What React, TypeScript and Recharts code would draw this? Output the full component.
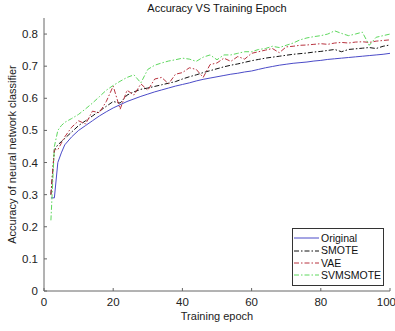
import React from 'react';
import { LineChart, Line, XAxis, YAxis } from 'recharts';

const epochs = [2, 3, 4, 5, 6, 8, 10, 12, 14, 16, 18, 20, 22, 24, 26, 28, 30, 32, 34, 36, 38, 40, 42, 44, 46, 48, 50, 52, 54, 56, 58, 60, 62, 64, 66, 68, 70, 72, 74, 76, 78, 80, 82, 84, 86, 88, 90, 92, 94, 96, 98, 100];

const original = [0.29, 0.29, 0.40, 0.43, 0.455, 0.48, 0.50, 0.515, 0.53, 0.545, 0.558, 0.57, 0.58, 0.59, 0.598, 0.606, 0.613, 0.62, 0.626, 0.632, 0.638, 0.643, 0.648, 0.654, 0.659, 0.663, 0.667, 0.671, 0.675, 0.678, 0.682, 0.685, 0.69, 0.695, 0.699, 0.703, 0.706, 0.709, 0.711, 0.713, 0.716, 0.718, 0.721, 0.723, 0.725, 0.727, 0.729, 0.731, 0.733, 0.735, 0.737, 0.74];

const smote = [0.30, 0.44, 0.455, 0.465, 0.475, 0.495, 0.515, 0.53, 0.545, 0.56, 0.575, 0.59, 0.585, 0.61, 0.62, 0.628, 0.632, 0.637, 0.642, 0.647, 0.652, 0.66, 0.667, 0.673, 0.68, 0.686, 0.692, 0.698, 0.703, 0.707, 0.712, 0.717, 0.721, 0.725, 0.728, 0.731, 0.734, 0.737, 0.739, 0.741, 0.744, 0.746, 0.749, 0.752, 0.745, 0.752, 0.754, 0.756, 0.758, 0.755, 0.762, 0.766];

const vae = [0.30, 0.44, 0.44, 0.46, 0.48, 0.51, 0.53, 0.52, 0.56, 0.555, 0.59, 0.638, 0.566, 0.625, 0.61, 0.645, 0.625, 0.66, 0.665, 0.645, 0.675, 0.68, 0.695, 0.69, 0.665, 0.705, 0.71, 0.725, 0.715, 0.73, 0.722, 0.74, 0.745, 0.75, 0.755, 0.742, 0.76, 0.762, 0.765, 0.766, 0.768, 0.77, 0.768, 0.772, 0.774, 0.772, 0.775, 0.776, 0.774, 0.778, 0.78, 0.782];

const svmsmote = [0.22, 0.45, 0.50, 0.515, 0.525, 0.537, 0.55, 0.567, 0.585, 0.605, 0.625, 0.64, 0.653, 0.665, 0.673, 0.648, 0.69, 0.703, 0.71, 0.716, 0.72, 0.725, 0.722, 0.715, 0.728, 0.735, 0.72, 0.735, 0.735, 0.74, 0.745, 0.745, 0.752, 0.755, 0.762, 0.758, 0.765, 0.772, 0.782, 0.788, 0.792, 0.795, 0.80, 0.81, 0.802, 0.795, 0.80, 0.806, 0.765, 0.79, 0.795, 0.80];

const xTicks = [0, 20, 40, 60, 80, 100];
const yTicks = [0, 0.1, 0.2, 0.3, 0.4, 0.5, 0.6, 0.7, 0.8];

const data = epochs.map((e, i) => ({
  epoch: e,
  original: original[i],
  smote: smote[i],
  vae: vae[i],
  svmsmote: svmsmote[i],
}));

const FONT = 'Arial, "Liberation Sans", sans-serif';
const AXIS = '#666';
const DASHDOT = '5 2 1.5 2';

const series = [
  { key: 'original', name: 'Original', color: '#4b4bc8', dash: undefined },
  { key: 'smote', name: 'SMOTE', color: '#111111', dash: DASHDOT },
  { key: 'vae', name: 'VAE', color: '#b8333f', dash: DASHDOT },
  { key: 'svmsmote', name: 'SVMSMOTE', color: '#5ed85e', dash: DASHDOT },
];

export default function App() {
  return (
    <div style={{ position: 'absolute', left: 0, top: 0, width: 395, height: 331, background: '#fff' }}>
      <div style={{ position: 'absolute', top: 2, left: 44, width: 346, textAlign: 'center', fontFamily: FONT, fontSize: 11, color: '#111' }}>
        Accuracy VS Training Epoch
      </div>
      <LineChart width={395} height={331} data={data} margin={{ top: 18, right: 5, left: 0, bottom: 0 }}>
        <XAxis
          xAxisId="b"
          dataKey="epoch"
          type="number"
          domain={[0, 100]}
          ticks={xTicks}
          height={40}
          stroke={AXIS}
          tickSize={-3}
          tickMargin={10}
          tick={{ fill: '#222', fontSize: 11.5, fontFamily: FONT }}
          label={{ value: 'Training epoch', position: 'insideBottom', offset: 11, fill: '#222', fontSize: 11, fontFamily: FONT }}
        />
        <XAxis
          xAxisId="t"
          dataKey="epoch"
          type="number"
          orientation="top"
          domain={[0, 100]}
          ticks={xTicks}
          height={0}
          stroke={AXIS}
          tickSize={-3}
          tick={false}
        />
        <YAxis
          yAxisId="l"
          type="number"
          domain={[0, 0.85]}
          ticks={yTicks}
          width={44}
          stroke={AXIS}
          tickSize={-3}
          tickMargin={9}
          tick={{ fill: '#222', fontSize: 11.5, fontFamily: FONT }}
          label={({ viewBox }: any) => (
            <text
              x={12}
              y={viewBox.y + viewBox.height / 2}
              transform={`rotate(-90 12 ${viewBox.y + viewBox.height / 2})`}
              textAnchor="middle"
              dominantBaseline="central"
              fill="#222"
              fontSize={11}
              fontFamily={FONT}
            >
              Accuracy of neural network classifier
            </text>
          )}
        />
        <YAxis
          yAxisId="r"
          type="number"
          orientation="right"
          domain={[0, 0.85]}
          ticks={yTicks}
          width={0}
          stroke={AXIS}
          tickSize={-3}
          tick={false}
        />
        {series.map((s) => (
          <Line
            key={s.key}
            xAxisId="b"
            yAxisId="l"
            dataKey={s.key}
            name={s.name}
            type="linear"
            stroke={s.color}
            strokeWidth={1}
            strokeDasharray={s.dash}
            dot={false}
            isAnimationActive={false}
          />
        ))}
      </LineChart>
      <div style={{ position: 'absolute', left: 292, top: 228, width: 89, border: '1px solid #333', background: '#fff', padding: '3px 0 3px 1px', fontFamily: FONT, fontSize: 10.5, color: '#111', lineHeight: '12.4px' }}>
        {series.map((s) => (
          <div key={s.key} style={{ display: 'flex', alignItems: 'center', height: 12.4 }}>
            <svg width={25} height={8} style={{ marginRight: 2, flexShrink: 0 }}>
              <line x1={0} y1={4} x2={25} y2={4} stroke={s.color} strokeWidth={1} strokeDasharray={s.dash} />
            </svg>
            <span>{s.name}</span>
          </div>
        ))}
      </div>
    </div>
  );
}
